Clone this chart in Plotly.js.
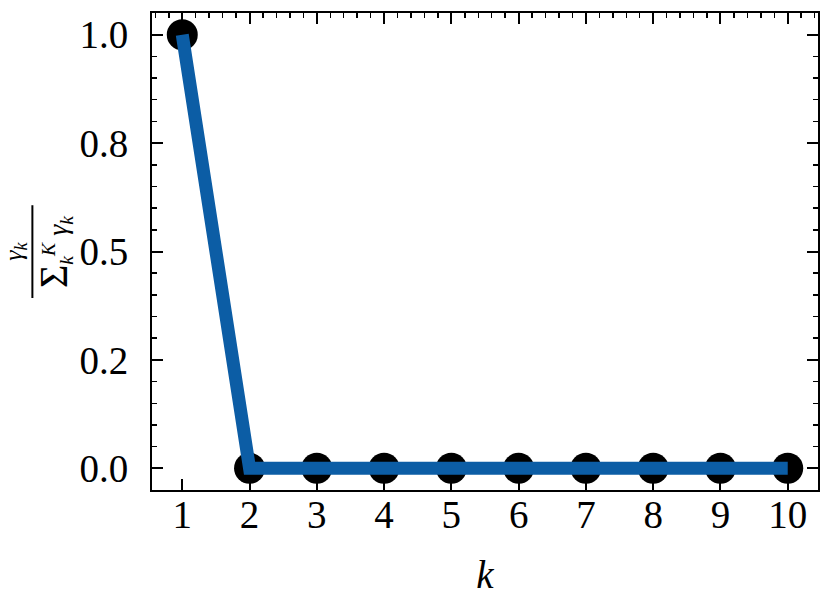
<!DOCTYPE html>
<html>
<head>
<meta charset="utf-8">
<script src="https://cdn.plot.ly/plotly-3.0.1.min.js"></script>
<style>
  html, body { margin: 0; padding: 0; background: #fff; }
  #plot { width: 831px; height: 606px; }
</style>
</head>
<body>
<div id="plot"></div>
<script>
// normalised gamma per component
var k = [1, 2, 3, 4, 5, 6, 7, 8, 9, 10];
var gammaRatio = [1.0, 0, 0, 0, 0, 0, 0, 0, 0, 0];

var yTickVals = [0, 0.25, 0.5, 0.75, 1.0];
var yTickText = ['0.0', '0.2', '0.5', '0.8', '1.0'];

var serif = 'Liberation Serif, Times New Roman, serif';

var dots = {
  x: k,
  y: gammaRatio,
  mode: 'markers',
  type: 'scatter',
  marker: {color: '#000000', size: 31},
  showlegend: false,
  hoverinfo: 'skip'
};

var line = {
  x: k,
  y: gammaRatio,
  mode: 'lines',
  type: 'scatter',
  line: {color: '#0C5DA5', width: 13},
  showlegend: false
};

// dummy trace so the top axis gets drawn
var topAxis = {
  x: k,
  y: gammaRatio,
  xaxis: 'x2',
  mode: 'markers',
  type: 'scatter',
  marker: {opacity: 0},
  showlegend: false,
  hoverinfo: 'skip'
};

var layout = {
  width: 831,
  height: 606,
  margin: {l: 152, r: 13, t: 13, b: 116},
  paper_bgcolor: '#ffffff',
  plot_bgcolor: '#ffffff',
  font: {family: serif, size: 39, color: '#000000'},
  xaxis: {
    range: [0.55, 10.45],
    tickvals: k,
    ticks: 'inside',
    ticklen: 11,
    tickwidth: 2,
    tickcolor: '#000',
    showline: true,
    linecolor: '#000',
    linewidth: 2,
    mirror: true,
    showgrid: false,
    zeroline: false,
    ticklabelstandoff: -11,
    title: {text: '<i>k</i>', font: {size: 39}, standoff: 26}
  },
  xaxis2: {
    overlaying: 'x',
    side: 'top',
    matches: 'x',
    range: [0.55, 10.45],
    tickvals: k,
    ticks: 'inside',
    ticklen: 11,
    tickwidth: 2,
    tickcolor: '#000',
    showticklabels: false,
    showgrid: false,
    zeroline: false,
    showline: false,
    minor: {dtick: 0.2, tick0: 0, ticks: 'inside', ticklen: 5, tickwidth: 1.5, tickcolor: '#000', showgrid: false}
  },
  yaxis: {
    range: [-0.05, 1.05],
    tickvals: yTickVals,
    ticktext: yTickText,
    ticks: 'inside',
    ticklen: 11,
    tickwidth: 2,
    tickcolor: '#000',
    showline: true,
    linecolor: '#000',
    linewidth: 2,
    mirror: 'ticks',
    showgrid: false,
    zeroline: false,
    ticklabelstandoff: 14,
    minor: {dtick: 0.05, tick0: 0, ticks: 'inside', ticklen: 5, tickwidth: 1.5, tickcolor: '#000', showgrid: false}
  },
  annotations: [
    {
      text: '<i>γ<sub>k</sub></i>',
      xref: 'paper', yref: 'paper',
      x: -0.207, y: 0.5,
      xanchor: 'center', yanchor: 'middle',
      textangle: -90,
      showarrow: false,
      font: {family: serif, size: 26, color: '#000'}
    },
    {
      text: '<span style="font-size:40px">Σ</span><i><sub>k</sub><sup>K</sup> γ<sub>k</sub></i>',
      xref: 'paper', yref: 'paper',
      x: -0.148, y: 0.5,
      xanchor: 'center', yanchor: 'middle',
      textangle: -90,
      showarrow: false,
      font: {family: serif, size: 28, color: '#000'}
    }
  ],
  shapes: [
    {
      type: 'line',
      xref: 'paper', yref: 'paper',
      x0: -0.1796, x1: -0.1796,
      y0: 0.4025, y1: 0.597,
      line: {color: '#000', width: 2}
    }
  ]
};

Plotly.newPlot('plot', [dots, line, topAxis], layout, {displayModeBar: false, staticPlot: true});
</script>
</body>
</html>
